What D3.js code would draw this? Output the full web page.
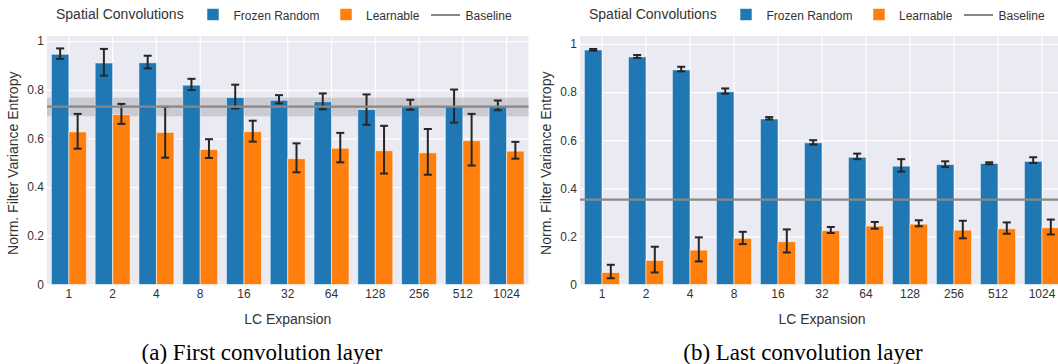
<!DOCTYPE html>
<html>
<head>
<meta charset="utf-8">
<script src="https://cdn.jsdelivr.net/npm/d3@7"></script>
<style>
  body { margin: 0; background: #fff; }
  svg { display: block; font-family: "Liberation Sans", Arial, sans-serif; }
</style>
</head>
<body>
<div id="chart"></div>
<script>
// categories (LC expansion factor)
const categories = ["1", "2", "4", "8", "16", "32", "64", "128", "256", "512", "1024"];
const seriesNames = ["Frozen Random", "Learnable"];

// (a) first convolution layer
const firstFrozen   = [0.946, 0.910, 0.911, 0.819, 0.768, 0.757, 0.751, 0.719, 0.733, 0.731, 0.731];
const firstFrozenLo = [0.927, 0.858, 0.888, 0.799, 0.723, 0.744, 0.720, 0.656, 0.718, 0.665, 0.716];
const firstFrozenHi = [0.970, 0.968, 0.940, 0.845, 0.821, 0.778, 0.785, 0.781, 0.759, 0.801, 0.756];
const firstLearn    = [0.627, 0.698, 0.625, 0.555, 0.628, 0.517, 0.560, 0.550, 0.541, 0.591, 0.548];
const firstLearnLo  = [0.558, 0.660, 0.521, 0.520, 0.587, 0.461, 0.502, 0.456, 0.451, 0.489, 0.517];
const firstLearnHi  = [0.701, 0.742, 0.730, 0.597, 0.673, 0.580, 0.623, 0.652, 0.639, 0.701, 0.586];
const firstBaseline = [0.731, 0.691, 0.768]; // mean, low, high

// (b) last convolution layer
const lastFrozen   = [0.975, 0.946, 0.892, 0.801, 0.688, 0.589, 0.529, 0.492, 0.499, 0.503, 0.512];
const lastFrozenLo = [0.972, 0.942, 0.886, 0.793, 0.686, 0.582, 0.521, 0.469, 0.488, 0.500, 0.505];
const lastFrozenHi = [0.979, 0.954, 0.905, 0.815, 0.696, 0.600, 0.544, 0.521, 0.512, 0.508, 0.529];
const lastLearn    = [0.050, 0.100, 0.143, 0.192, 0.178, 0.224, 0.243, 0.251, 0.226, 0.232, 0.236];
const lastLearnLo  = [0.026, 0.050, 0.096, 0.168, 0.133, 0.214, 0.232, 0.242, 0.192, 0.211, 0.208];
const lastLearnHi  = [0.082, 0.157, 0.196, 0.219, 0.229, 0.239, 0.260, 0.267, 0.265, 0.258, 0.270];
const lastBaseline = [0.353, 0.352, 0.354];

const yTicks = [0, 0.2, 0.4, 0.6, 0.8, 1];

const COLORS = { "Frozen Random": "#1f77b4", "Learnable": "#ff7f0e" };
const TEXT = "#333";

function buildRows(mean, lo, hi) {
    return categories.map((c, i) => ({ cat: c, mean: mean[i], lo: lo[i], hi: hi[i] }));
}

class ExpansionBarPanel {
    constructor(svg, options) {
        this.svg = svg;
        this.o = options;
        this.draw();
    }

    draw() {
        const o = this.o;
        const g = this.svg.append("g");

        const x = d3.scaleBand().domain(categories)
            .range([o.left, o.right]).paddingInner(0.2).paddingOuter(0.1);
        const xSub = d3.scaleBand().domain(seriesNames).range([0, x.bandwidth()]);
        const y = d3.scaleLinear().domain([0, o.yMax]).range([o.bottom, o.top]);

        // background
        g.append("rect")
            .attr("x", o.left).attr("y", o.top)
            .attr("width", o.right - o.left).attr("height", o.bottom - o.top)
            .attr("fill", "#eaeaf2");

        // horizontal grid + y tick labels
        const yAxis = g.append("g")
            .attr("transform", `translate(${o.left},0)`)
            .call(d3.axisLeft(y).tickValues(yTicks)
                .tickSize(-(o.right - o.left)).tickPadding(3)
                .tickFormat(d => String(+d.toFixed(1))));
        yAxis.select(".domain").remove();
        yAxis.selectAll("line").attr("stroke", "#fff").attr("stroke-width", 1.2);
        yAxis.selectAll("text").attr("fill", TEXT).style("font-size", "12px")
            .style("font-family", "Liberation Sans, Arial, sans-serif");

        // vertical grid + x tick labels
        const xAxis = g.append("g")
            .attr("transform", `translate(0,${o.bottom})`)
            .call(d3.axisBottom(x).tickSize(-(o.bottom - o.top)).tickPadding(5));
        xAxis.select(".domain").remove();
        xAxis.selectAll("line").attr("stroke", "#fff").attr("stroke-width", 1.2);
        xAxis.selectAll("text").attr("fill", TEXT).style("font-size", "12px")
            .style("font-family", "Liberation Sans, Arial, sans-serif");

        // baseline band
        const [bMean, bLo, bHi] = o.baseline;
        g.append("rect")
            .attr("x", o.left).attr("width", o.right - o.left)
            .attr("y", y(bHi)).attr("height", y(bLo) - y(bHi))
            .attr("fill", "#808080").attr("fill-opacity", 0.3);

        // bars
        o.series.forEach(s => {
            g.append("g").selectAll("rect")
                .data(s.rows).join("rect")
                .attr("x", d => x(d.cat) + xSub(s.name))
                .attr("width", xSub.bandwidth())
                .attr("y", d => y(d.mean))
                .attr("height", d => y(0) - y(d.mean))
                .attr("fill", COLORS[s.name])
                .attr("stroke", "#fff").attr("stroke-opacity", 0.55).attr("stroke-width", 1);
        });

        // error bars
        o.series.forEach(s => {
            const eg = g.append("g").attr("stroke", "#262626").attr("stroke-width", 2);
            s.rows.forEach(d => {
                const cx = x(d.cat) + xSub(s.name) + xSub.bandwidth() / 2;
                eg.append("line").attr("x1", cx).attr("x2", cx).attr("y1", y(d.lo)).attr("y2", y(d.hi));
                eg.append("line").attr("x1", cx - 4).attr("x2", cx + 4).attr("y1", y(d.lo)).attr("y2", y(d.lo));
                eg.append("line").attr("x1", cx - 4).attr("x2", cx + 4).attr("y1", y(d.hi)).attr("y2", y(d.hi));
            });
        });

        // baseline line
        g.append("line")
            .attr("x1", o.left).attr("x2", o.right)
            .attr("y1", y(bMean)).attr("y2", y(bMean))
            .attr("stroke", "#888").attr("stroke-width", 2.2);

        // axis titles
        g.append("text")
            .attr("x", (o.left + o.right) / 2).attr("y", o.bottom + 39)
            .attr("text-anchor", "middle").attr("fill", TEXT)
            .style("font-size", "14px").text("LC Expansion");
        g.append("text")
            .attr("transform", `translate(${o.left - 29},${(o.top + o.bottom) / 2 + 3}) rotate(-90)`)
            .attr("text-anchor", "middle").attr("fill", TEXT)
            .style("font-size", "14px").text("Norm. Filter Variance Entropy");

        // legend
        const lg = g.append("g").attr("transform", `translate(${o.left},0)`);
        lg.append("text").attr("x", 9).attr("y", 19).attr("fill", TEXT)
            .style("font-size", "14px").text("Spatial Convolutions");
        [[160, 186.5, "Frozen Random"], [293, 319, "Learnable"]].forEach(([sx, tx, name]) => {
            lg.append("rect").attr("x", sx).attr("y", 8.5).attr("width", 12).attr("height", 12)
                .attr("fill", COLORS[name]).attr("stroke", "#fff").attr("stroke-opacity", 0.55);
            lg.append("text").attr("x", tx).attr("y", 19.5).attr("fill", TEXT)
                .style("font-size", "12px").text(name);
        });
        lg.append("line").attr("x1", 384).attr("x2", 413).attr("y1", 15).attr("y2", 15)
            .attr("stroke", "#888").attr("stroke-width", 2);
        lg.append("text").attr("x", 418.6).attr("y", 19.5).attr("fill", TEXT)
            .style("font-size", "12px").text("Baseline");

        // caption
        g.append("text")
            .attr("x", o.captionX).attr("y", 360)
            .attr("text-anchor", "middle").attr("fill", "#000")
            .style("font-family", "Liberation Serif, Times New Roman, serif")
            .style("font-size", "23px").text(o.caption);
    }
}

document.addEventListener("DOMContentLoaded", () => {
    const svg = d3.select("#chart").append("svg")
        .attr("width", 1058).attr("height", 364);

    new ExpansionBarPanel(svg, {
        left: 47, right: 528.5, top: 36, bottom: 284.5, yMax: 1.021,
        baseline: firstBaseline,
        series: [
            { name: "Frozen Random", rows: buildRows(firstFrozen, firstFrozenLo, firstFrozenHi) },
            { name: "Learnable", rows: buildRows(firstLearn, firstLearnLo, firstLearnHi) }
        ],
        caption: "(a) First convolution layer", captionX: 262
    });

    new ExpansionBarPanel(svg, {
        left: 580, right: 1064, top: 36, bottom: 284.5, yMax: 1.033,
        baseline: lastBaseline,
        series: [
            { name: "Frozen Random", rows: buildRows(lastFrozen, lastFrozenLo, lastFrozenHi) },
            { name: "Learnable", rows: buildRows(lastLearn, lastLearnLo, lastLearnHi) }
        ],
        caption: "(b) Last convolution layer", captionX: 803
    });
});
</script>
</body>
</html>
